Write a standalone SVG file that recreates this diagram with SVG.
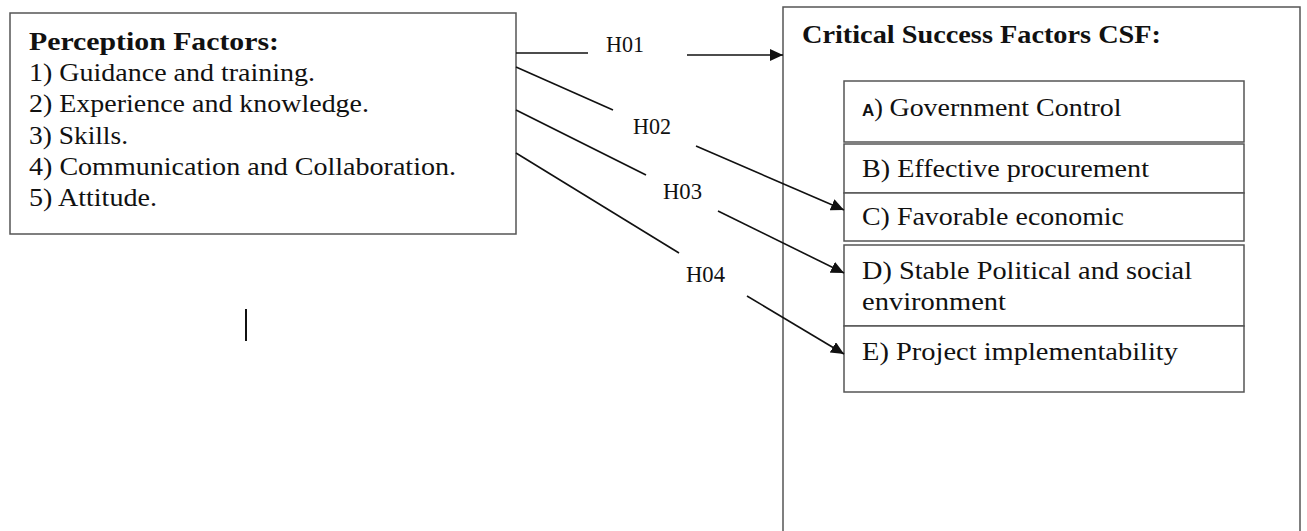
<svg xmlns="http://www.w3.org/2000/svg" width="1307" height="531" viewBox="0 0 1307 531">
<style>
.box{fill:#fff;stroke:#555;stroke-width:1.5}
.t{font-family:"Liberation Serif","Times New Roman",serif;font-size:26px;fill:#111}
.b{font-weight:bold;font-size:25px}
.lbl{font-family:"Liberation Serif","Times New Roman",serif;font-size:23px;fill:#111}
.ln{stroke:#111;stroke-width:1.6;fill:none}
.sa{font-family:"Liberation Sans",Arial,sans-serif;font-size:17px;font-weight:bold}
</style>
<defs>
<marker id="ah" markerUnits="userSpaceOnUse" markerWidth="14" markerHeight="12" refX="13" refY="6" orient="auto">
<path d="M0,0 L13,6 L0,12 z" fill="#111"/>
</marker>
</defs>
<rect width="1307" height="531" fill="#fff"/>
<g id="perception">
<rect class="box" x="10" y="13" width="506" height="221"/>
<text class="t b" x="29" y="50" textLength="250" lengthAdjust="spacingAndGlyphs">Perception Factors:</text>
<text class="t" x="29" y="81" textLength="286" lengthAdjust="spacingAndGlyphs">1) Guidance and training.</text>
<text class="t" x="29" y="112" textLength="340" lengthAdjust="spacingAndGlyphs">2) Experience and knowledge.</text>
<text class="t" x="29" y="144" textLength="99" lengthAdjust="spacingAndGlyphs">3) Skills.</text>
<text class="t" x="29" y="175" textLength="427" lengthAdjust="spacingAndGlyphs">4) Communication and Collaboration.</text>
<text class="t" x="29" y="206" textLength="128" lengthAdjust="spacingAndGlyphs">5) Attitude.</text>
</g>
<g id="csf">
<rect class="box" x="783" y="7" width="517" height="540"/>
<text class="t b" x="802" y="43" textLength="359" lengthAdjust="spacingAndGlyphs">Critical Success Factors CSF:</text>
</g>
<g id="factorA">
<rect class="box" x="844" y="81" width="400" height="61"/>
<text class="t" x="862" y="116"><tspan class="sa">A</tspan>) <tspan textLength="232" lengthAdjust="spacingAndGlyphs">Government Control</tspan></text>
</g>
<g id="factorB">
<rect class="box" x="844" y="144" width="400" height="49"/>
<text class="t" x="862" y="177" textLength="287" lengthAdjust="spacingAndGlyphs">B) Effective procurement</text>
</g>
<g id="factorC">
<rect class="box" x="844" y="193" width="400" height="48"/>
<text class="t" x="862" y="225" textLength="262" lengthAdjust="spacingAndGlyphs">C) Favorable economic</text>
</g>
<g id="factorD">
<rect class="box" x="844" y="245" width="400" height="81"/>
<text class="t" x="862" y="279" textLength="330" lengthAdjust="spacingAndGlyphs">D) Stable Political and social</text>
<text class="t" x="862" y="310" textLength="144" lengthAdjust="spacingAndGlyphs">environment</text>
</g>
<g id="factorE">
<rect class="box" x="844" y="326" width="400" height="66"/>
<text class="t" x="862" y="360" textLength="316" lengthAdjust="spacingAndGlyphs">E) Project implementability</text>
</g>
<g id="connectors">
<line class="ln" x1="516" y1="53" x2="588" y2="53"/>
<line class="ln" x1="687" y1="55" x2="783" y2="55" marker-end="url(#ah)"/>
<line class="ln" x1="516" y1="67" x2="613" y2="110"/>
<line class="ln" x1="696" y1="146" x2="844" y2="210" marker-end="url(#ah)"/>
<line class="ln" x1="516" y1="110" x2="646" y2="175"/>
<line class="ln" x1="718" y1="211" x2="844" y2="273" marker-end="url(#ah)"/>
<line class="ln" x1="516" y1="153" x2="679" y2="253"/>
<line class="ln" x1="747" y1="296" x2="844" y2="354" marker-end="url(#ah)"/>
<text class="lbl" x="606" y="52" textLength="38" lengthAdjust="spacingAndGlyphs">H01</text>
<text class="lbl" x="633" y="134" textLength="38" lengthAdjust="spacingAndGlyphs">H02</text>
<text class="lbl" x="663" y="199" textLength="39" lengthAdjust="spacingAndGlyphs">H03</text>
<text class="lbl" x="686" y="282" textLength="39" lengthAdjust="spacingAndGlyphs">H04</text>
</g>
<line x1="246" y1="309" x2="246" y2="341" stroke="#111" stroke-width="2"/>
</svg>
